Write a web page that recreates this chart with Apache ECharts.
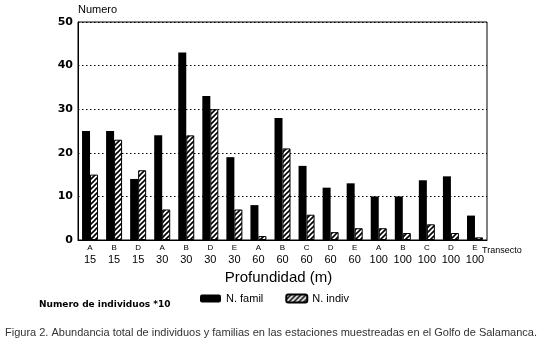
<!DOCTYPE html>
<html>
<head>
<meta charset="utf-8">
<script src="https://cdn.jsdelivr.net/npm/echarts@6/dist/echarts.min.js"></script>
<style>
html,body{margin:0;padding:0;background:#fff;}
#c{width:540px;height:343px;}
</style>
</head>
<body>
<div id="c"></div>
<script>
var transects = ['A','B','D','A','B','D','E','A','B','C','D','E','A','B','C','D','E'];
var depths = ['15','15','15','30','30','30','30','60','60','60','60','60','100','100','100','100','100'];
var famil = [25, 25, 14, 24, 43, 33, 19, 8, 28, 17, 12, 13, 10, 10, 13.7, 14.6, 5.6];
var indiv = [15, 23, 16, 7, 24, 30, 7, 0.9, 21, 5.8, 1.8, 2.7, 2.7, 1.6, 3.6, 1.6, 0.6];
var yTicks = [0, 10, 20, 30, 40, 50];

var categories = transects.map(function(t, i){ return t + '|' + depths[i]; });

// hatch pattern
var P = 5;
var pc = document.createElement('canvas');
pc.width = P; pc.height = P;
var ctx = pc.getContext('2d');
ctx.fillStyle = '#fff';
ctx.fillRect(0,0,P,P);
ctx.strokeStyle = '#000';
ctx.lineWidth = 1.6;
ctx.beginPath();
ctx.moveTo(0,P); ctx.lineTo(P,0);
ctx.moveTo(-1,1); ctx.lineTo(1,-1);
ctx.moveTo(P-1,P+1); ctx.lineTo(P+1,P-1);
ctx.stroke();

var chart = echarts.init(document.getElementById('c'), null, {renderer:'canvas'});
chart.setOption({
  animation: false,
  backgroundColor: '#fff',
  grid: {left: 78, right: 53, top: 22, bottom: 103, show: true, borderColor: '#000', borderWidth: 1, backgroundColor: 'transparent'},
  xAxis: {
    type: 'category',
    data: categories,
    axisLine: {lineStyle: {color: '#000', width: 1}},
    axisTick: {show: false},
    axisLabel: {
      interval: 0,
      margin: 3,
      formatter: function(v){ var p = v.split('|'); return '{a|' + p[0] + '}\n{b|' + p[1] + '}'; },
      rich: {
        a: {fontFamily: 'Liberation Sans', fontSize: 8, color: '#000', lineHeight: 10},
        b: {fontFamily: 'Liberation Sans', fontSize: 11, color: '#000', lineHeight: 13}
      }
    },
    name: 'Profundidad (m)',
    nameLocation: 'middle',
    nameGap: 30,
    nameTextStyle: {fontFamily: 'Liberation Sans', fontSize: 15, color: '#000', padding: [0, 8, 0, 0]}
  },
  yAxis: {
    type: 'value',
    min: 0, max: 50, interval: 10,
    axisLine: {show: true, lineStyle: {color: '#000', width: 1}},
    axisTick: {show: false},
    axisLabel: {fontFamily: 'DejaVu Sans', fontWeight: 'bold', fontSize: 11, color: '#000', margin: 5,
      formatter: function(v){ return yTicks.indexOf(v) >= 0 ? String(v) : ''; }},
    splitLine: {show: true, lineStyle: {color: '#000', type: [1.5, 2.5], width: 1}}
  },
  legend: {
    left: 195, top: 288,
    itemWidth: 21, itemHeight: 8,
    itemGap: 22,
    textStyle: {fontFamily: 'Liberation Sans', fontSize: 11, color: '#000'},
    data: ['N. famil', 'N. indiv']
  },
  series: [
    {name: 'N. famil', type: 'bar', data: famil, barWidth: 8, barGap: '0%',
      itemStyle: {color: '#000'}},
    {name: 'N. indiv', type: 'bar', data: indiv, barWidth: 8,
      itemStyle: {color: {image: pc, repeat: 'repeat'}, borderColor: '#000', borderWidth: 1}}
  ],
  graphic: [
    {type: 'text', left: 78, top: 4, style: {text: 'Numero', fontFamily: 'Liberation Sans', fontSize: 11, fill: '#000'}},
    {type: 'text', left: 482, top: 246, style: {text: 'Transecto', fontFamily: 'Liberation Sans', fontSize: 9, fill: '#000'}},
    {type: 'text', left: 39, top: 300, style: {text: 'Numero de individuos *10', fontFamily: 'DejaVu Sans', fontWeight: 'bold', fontSize: 9, fill: '#000'}},
    {type: 'text', left: 5, top: 327, style: {text: 'Figura 2. Abundancia total de individuos y familias en las estaciones muestreadas en el Golfo de Salamanca.', fontFamily: 'Liberation Sans', fontSize: 11, fill: '#333'}}
  ]
});
</script>
</body>
</html>
